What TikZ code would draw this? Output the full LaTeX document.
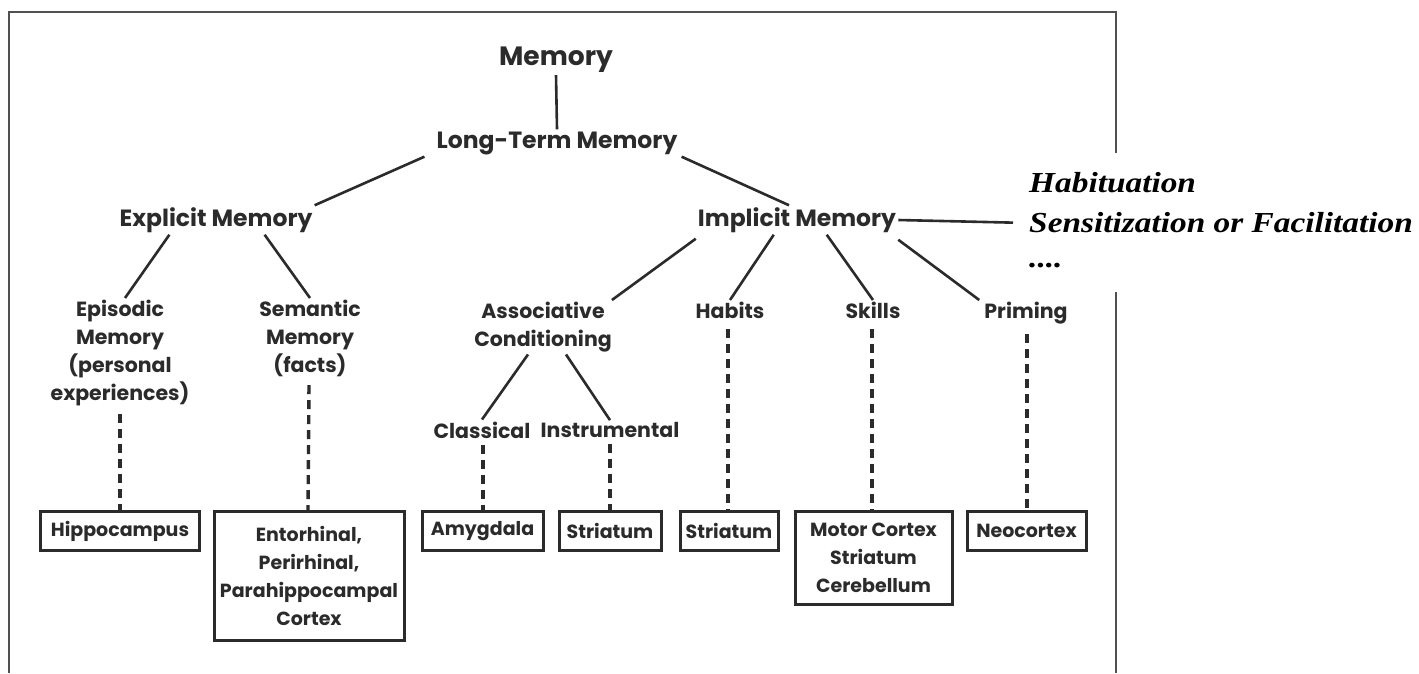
\documentclass[tikz,border=0pt]{standalone}
\usepackage{fontspec}
\newfontfamily\pop{Poppins}
\newfontfamily\tms[FakeStretch=1.15]{Liberation Serif}
\definecolor{ink}{HTML}{2B2B2B}
\definecolor{frame}{HTML}{505050}
\tikzset{
  lvA/.style={inner sep=2pt, text=ink, font=\pop\bfseries\fontsize{26.5}{32}\selectfont},
  lvB/.style={inner sep=2pt, text=ink, font=\pop\bfseries\fontsize{23.5}{29}\selectfont},
  lvC/.style={inner sep=2pt, text=ink, align=center, font=\pop\bfseries\fontsize{20.5}{28}\selectfont},
  brain/.style={draw=ink, line width=3pt, inner sep=0pt, text=ink, align=center,
    font=\pop\bfseries\fontsize{19}{28}\selectfont, anchor=north, minimum height=39pt},
  side/.style={inner sep=0pt, anchor=west, text=black, font=\tms\bfseries\itshape\fontsize{29}{34}\selectfont},
  link/.style={draw=ink, line width=2.6pt},
  dlink/.style={draw=ink, line width=3.4pt, dash pattern=on 9pt off 6pt},
}
\begin{document}
\begin{tikzpicture}[x=1pt,y=-1pt]
\useasboundingbox (0,0) rectangle (1419,673);
\fill[white] (0,0) rectangle (1419,673);
% frame
\draw[frame, line width=2.2pt] (9,673) -- (9,12) -- (1116,12) -- (1116,153);
\draw[frame, line width=2.2pt] (1116,292) -- (1116,673);

% level nodes
\node[lvA] (mem) at (556,60) {Memory};
\node[lvB] (ltm) at (557,143) {Long-Term Memory};
\node[lvB] (exp) at (216,220) {Explicit Memory};
\node[lvB] (imp) at (797,220) {Implicit Memory};

\node[side] (hab) at (1029,183) {Habituation};
\node[side] (sens) at (1029,223) {Sensitization or Facilitation};
\node[side] (dots) at (1029,266) {....};

\node[lvC, anchor=north] (epi) at (120,298) {Episodic\\Memory\\(personal\\experiences)};
\node[lvC, anchor=north] (sem) at (310,298) {Semantic\\Memory\\(facts)};
\node[lvC, anchor=north] (asc) at (543,300) {Associative\\Conditioning};
\node[lvC, anchor=north] (habt) at (730,300) {Habits};
\node[lvC, anchor=north] (ski) at (873,300) {Skills};
\node[lvC, anchor=north] (pri) at (1026,300) {Priming};
\node[lvC] (cla) at (482,430) {Classical};
\node[lvC] (ins) at (610,430) {Instrumental};

% boxes
\node[brain, minimum width=159pt] (hip) at (120,510) {Hippocampus};
\node[brain, minimum width=190pt, minimum height=129pt] (ent) at (309,510) {Entorhinal,\\Perirhinal,\\Parahippocampal\\Cortex};
\node[brain, minimum width=121pt] (amy) at (482.5,510) {Amygdala};
\node[brain, minimum width=102pt] (str) at (610,510) {Striatum};
\node[brain, minimum width=98pt] (strb) at (729,510) {Striatum};
\node[brain, minimum width=157pt, minimum height=93pt] (mot) at (873.5,510) {Motor Cortex\\Striatum\\Cerebellum};
\node[brain, minimum width=119pt] (neo) at (1026.5,510) {Neocortex};

% solid links
\draw[link] (mem.south) -- (ltm.north);
\draw[link] ([xshift=-10pt]ltm.south west) -- (exp.north east);
\draw[link] ([xshift=2pt]ltm.south east) -- ([xshift=-8pt]imp.north);
\draw[link, shorten >=16pt] (imp.east) -- (sens.west);
\draw[link] ([xshift=52pt]exp.south west) -- ([xshift=5pt]epi.north);
\draw[link] ([xshift=-50pt]exp.south east) -- (sem.north);
\draw[link] ([yshift=-4pt]imp.south west) -- ([xshift=-2pt]asc.north east);
\draw[link] ([xshift=78pt]imp.south west) -- (habt.north);
\draw[link] ([xshift=131pt]imp.south west) -- (ski.north);
\draw[link] ([yshift=-5pt]imp.south east) -- ([xshift=-3pt]pri.north west);
\draw[link] ([xshift=-15pt]asc.south) -- (cla.north);
\draw[link] ([xshift=23pt]asc.south) -- (ins.north);

% dashed links
\draw[dlink] (epi.south) ++(0,6) -- (hip.north);
\draw[dlink] (sem.south) ++(-1,6) -- ([xshift=-1pt]ent.north);
\draw[dlink] (cla.south) ++(1,4) -- ([xshift=0.5pt]amy.north);
\draw[dlink] (ins.south) ++(0,4) -- (str.north);
\draw[dlink] (habt.south) ++(-2,8) -- ([xshift=-1pt]strb.north);
\draw[dlink] (ski.south) ++(-1,8) -- ([xshift=-1.5pt]mot.north);
\draw[dlink] (pri.south) ++(1,8) -- ([xshift=0.5pt]neo.north);
\end{tikzpicture}
\end{document}
